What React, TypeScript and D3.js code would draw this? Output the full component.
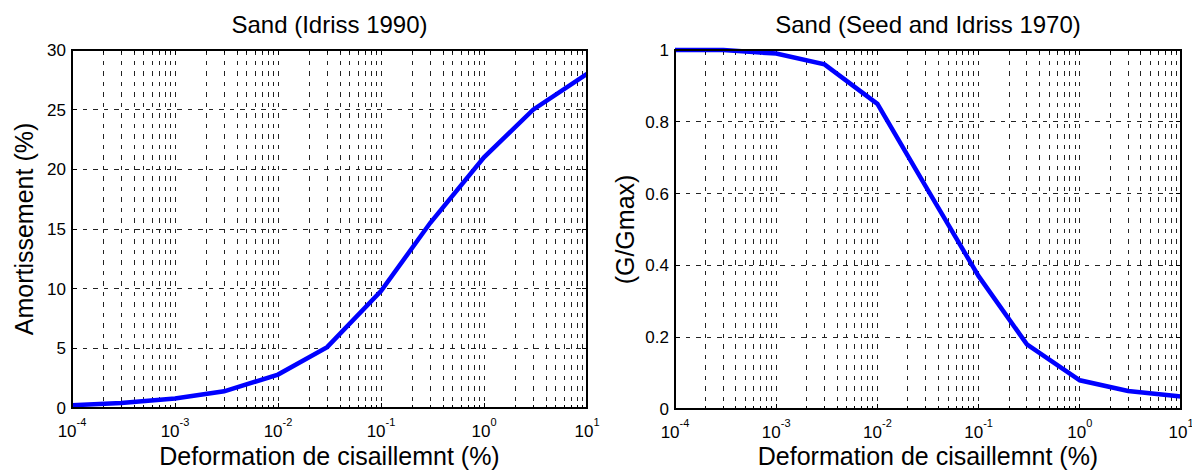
import React from "react";
import * as d3 from "d3";

const strainLeft = [1e-4, 3e-4, 1e-3, 3e-3, 1e-2, 3e-2, 1e-1, 3e-1, 1, 3, 10];
const damping = [0.24, 0.42, 0.8, 1.4, 2.8, 5.1, 9.8, 15.5, 21, 25, 28];

const strainRight = [1e-4, 3e-4, 1e-3, 3e-3, 1e-2, 3e-2, 1e-1, 3e-1, 1, 3, 10];
const modulus = [1.0, 1.0, 0.99, 0.96, 0.85, 0.62, 0.37, 0.18, 0.08, 0.05, 0.035];

const xMajorTicks = [1e-4, 1e-3, 1e-2, 1e-1, 1, 10];
const xExponents = ["-4", "-3", "-2", "-1", "0", "1"];
const yTicksLeft = [0, 5, 10, 15, 20, 25, 30];
const yTickLabelsLeft = ["0", "5", "10", "15", "20", "25", "30"];
const yTicksRight = [0, 0.2, 0.4, 0.6, 0.8, 1];
const yTickLabelsRight = ["0", "0.2", "0.4", "0.6", "0.8", "1"];

const FONT = "Liberation Sans, Arial, sans-serif";

type PanelProps = {
  left: number;
  right: number;
  top: number;
  bottom: number;
  xs: number[];
  ys: number[];
  yDomain: [number, number];
  yTicks: number[];
  yTickLabels: string[];
  title: string;
  yLabel: string;
  yLabelX: number;
};

function Panel(p: PanelProps) {
  const x = d3.scaleLog().domain([1e-4, 10]).range([p.left, p.right]);
  const y = d3.scaleLinear().domain(p.yDomain).range([p.bottom, p.top]);
  const minor: number[] = [];
  for (let e = -4; e < 1; e++) {
    for (let m = 2; m <= 9; m++) minor.push(m * Math.pow(10, e));
  }
  const allX = [...xMajorTicks, ...minor];
  const line = d3
    .line<number>()
    .x((_, i) => x(p.xs[i]))
    .y((d) => y(d));
  const dash = "4.5,6";
  const tickLen = 5;
  const minorLen = 3;
  const midX = (p.left + p.right) / 2;
  const midY = (p.top + p.bottom) / 2;
  return (
    <g>
      <g shapeRendering="crispEdges">
        {allX.map((v, i) => (
          <line
            key={"vg" + i}
            x1={x(v)}
            x2={x(v)}
            y1={p.top}
            y2={p.bottom}
            stroke="#222"
            strokeWidth={1}
            strokeDasharray={dash}
          />
        ))}
        {p.yTicks.map((v, i) => (
          <line
            key={"hg" + i}
            x1={p.left}
            x2={p.right}
            y1={y(v)}
            y2={y(v)}
            stroke="#222"
            strokeWidth={1}
            strokeDasharray={dash}
          />
        ))}
        {allX.map((v, i) => {
          const len = i < xMajorTicks.length ? tickLen : minorLen;
          return (
            <g key={"xt" + i}>
              <line x1={x(v)} x2={x(v)} y1={p.bottom} y2={p.bottom - len} stroke="#000" strokeWidth={1} />
              <line x1={x(v)} x2={x(v)} y1={p.top} y2={p.top + len} stroke="#000" strokeWidth={1} />
            </g>
          );
        })}
        {p.yTicks.map((v, i) => (
          <g key={"yt" + i}>
            <line x1={p.left} x2={p.left + tickLen} y1={y(v)} y2={y(v)} stroke="#000" strokeWidth={1} />
            <line x1={p.right} x2={p.right - tickLen} y1={y(v)} y2={y(v)} stroke="#000" strokeWidth={1} />
          </g>
        ))}
      </g>
      <path d={line(p.ys) || ""} fill="none" stroke="#0000ff" strokeWidth={4.5} strokeLinejoin="miter" />
      <rect
        x={p.left}
        y={p.top}
        width={p.right - p.left}
        height={p.bottom - p.top}
        fill="none"
        stroke="#000"
        strokeWidth={1.5}
        shapeRendering="crispEdges"
      />
      {p.yTicks.map((v, i) => (
        <text
          key={"yl" + i}
          x={p.left - 6}
          y={y(v) + 6}
          textAnchor="end"
          fontSize={17}
          fontFamily={FONT}
        >
          {p.yTickLabels[i]}
        </text>
      ))}
      {xMajorTicks.map((v, i) => (
        <text key={"xl" + i} x={x(v)} y={p.bottom + 29} textAnchor="middle" fontSize={17} fontFamily={FONT}>
          10
          <tspan fontSize={11} dy={-11}>
            {xExponents[i]}
          </tspan>
        </text>
      ))}
      <text x={midX} y={33} textAnchor="middle" fontSize={24} fontFamily={FONT}>
        {p.title}
      </text>
      <text x={midX} y={465} textAnchor="middle" fontSize={25} fontFamily={FONT}>
        Deformation de cisaillemnt (%)
      </text>
      <text
        transform={`translate(${p.yLabelX},${midY}) rotate(-90)`}
        textAnchor="middle"
        fontSize={25}
        fontFamily={FONT}
      >
        {p.yLabel}
      </text>
    </g>
  );
}

export default function App() {
  return (
    <svg
      width={1192}
      height={470}
      style={{ position: "absolute", left: 0, top: 0, background: "#fff" }}
    >
      <rect x={0} y={0} width={1192} height={470} fill="#fff" />
      <Panel
        left={72}
        right={587}
        top={50}
        bottom={408}
        xs={strainLeft}
        ys={damping}
        yDomain={[0, 30]}
        yTicks={yTicksLeft}
        yTickLabels={yTickLabelsLeft}
        title="Sand (Idriss 1990)"
        yLabel="Amortissement (%)"
        yLabelX={33}
      />
      <Panel
        left={675}
        right={1181}
        top={50}
        bottom={409}
        xs={strainRight}
        ys={modulus}
        yDomain={[0, 1]}
        yTicks={yTicksRight}
        yTickLabels={yTickLabelsRight}
        title="Sand (Seed and Idriss 1970)"
        yLabel="(G/Gmax)"
        yLabelX={634}
      />
    </svg>
  );
}
